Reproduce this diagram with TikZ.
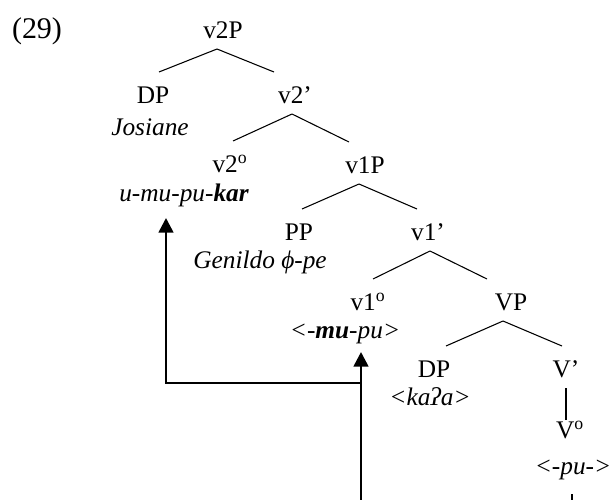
\documentclass[tikz,border=0pt]{standalone}
\usepackage{fontspec}
\setmainfont{Liberation Serif}
\usetikzlibrary{arrows.meta}
\begin{document}
\begin{tikzpicture}[x=0.75pt,y=-0.75pt,
  every node/.style={inner sep=0pt,font=\fontsize{19pt}{22pt}\selectfont},
  cat/.style={anchor=base},
  word/.style={anchor=base,font=\fontsize{19pt}{22pt}\selectfont\itshape},
  br/.style={line width=0.8pt},
  mv/.style={line width=2pt},
  mvhead/.style={mv,-{Triangle[width=11pt,length=11pt]}}]
\useasboundingbox (0,0) rectangle (611,500);

% example number
\node[cat,font=\fontsize{22.5pt}{26pt}\selectfont] (num) at (37,38) {(29)};

% category labels
\node[cat] (v2P)  at (223,38)  {v2P};
\node[cat] (dpA)  at (153,103) {DP};
\node[cat] (v2b)  at (295,103) {v2’};
\node[cat] (v2h)  at (230,172) {v2\textsuperscript{o}};
\node[cat] (v1P)  at (365,173) {v1P};
\node[cat] (PP)   at (299,240) {PP};
\node[cat] (v1b)  at (428,240) {v1’};
\node[cat] (v1h)  at (368,310) {v1\textsuperscript{o}};
\node[cat] (VP)   at (511,310) {VP};
\node[cat] (dpB)  at (434,377) {DP};
\node[cat] (Vb)   at (566,377) {V’};
\node[cat] (Vh)   at (570,438) {V\textsuperscript{o}};

% lexical material
\node[word] (wJos)  at (150,135) {Josiane};
\node[word] (wKar)  at (184,201) {u-mu-pu-\textbf{kar}};
\node[word] (wGen)  at (260,268) {Genildo ϕ-pe};
\node[word] (wMu)   at (345,338) {<-\textbf{mu}-pu>};
\node[word] (wKa)   at (430,405) {<kaʔa>};
\node[word] (wPu)   at (573,474) {<-pu->};

% branches: parent (x-offset) to child (x-offset)
\newcommand\treeedge[4]{\draw[br] ([shift={(#2,11)}]#1.base) -- ([shift={(#4,-31)}]#3.base);}
\treeedge{v2P}{-6}{dpA}{6}
\treeedge{v2P}{-6}{v2b}{-21}
\treeedge{v2b}{-3}{v2h}{3}
\treeedge{v2b}{-3}{v1P}{-16}
\treeedge{v1P}{-6}{PP}{3}
\treeedge{v1P}{-6}{v1b}{-11}
\treeedge{v1b}{2}{v1h}{5}
\treeedge{v1b}{2}{VP}{-24}
\treeedge{VP}{-8}{dpB}{12}
\treeedge{VP}{-8}{Vb}{-4}
\draw[br] ([shift={(0,11)}]Vb.base) -- ([shift={(-4,-18)}]Vh.base);

% head movement
\coordinate (mvfoot) at (361,500);
\coordinate (mvjoin) at (361,383);
\coordinate (mutip) at (361,352);
\coordinate (kartip) at (166,218);
\draw[mvhead] (mvfoot) -- (mutip);
\draw[mvhead] (mvjoin) -| (kartip);

% movement line leaving V
\coordinate (vfoottop) at (572,494);
\coordinate (vfoot) at (572,500);
\draw[mv] (vfoottop) -- (vfoot);
\end{tikzpicture}
\end{document}
